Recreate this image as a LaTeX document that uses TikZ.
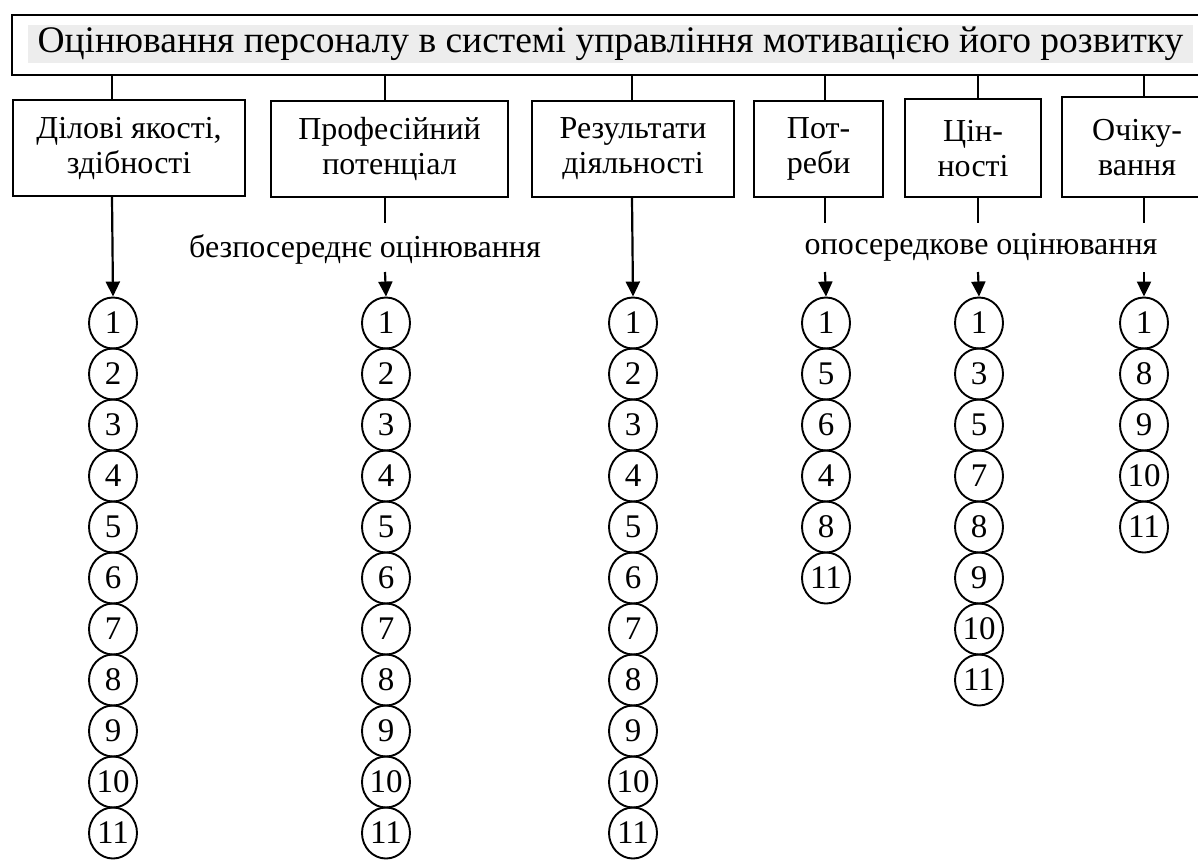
\documentclass[tikz,border=0pt]{standalone}
\usepackage{fontspec}
\setmainfont{Liberation Serif}
\usetikzlibrary{shapes.geometric,arrows.meta}
\begin{document}
\begin{tikzpicture}[x=1pt,y=-1pt,line width=2.2pt,
  box/.style={draw,align=center,inner sep=0pt,anchor=north west,font=\fontsize{32}{35}\selectfont},
  num/.style={draw,ellipse,minimum width=48pt,minimum height=51pt,inner sep=0pt,line width=1.9pt,font=\fontsize{33}{33}\selectfont},
  arr/.style={-{Triangle[length=15pt,width=14pt]}},
  lbl/.style={inner sep=0pt,font=\fontsize{32}{38}\selectfont}]
\clip (0,0) rectangle (1198,865);
% title
\node[draw,anchor=north west,minimum width=1210pt,minimum height=60pt,inner sep=0pt] (frame) at (11,14) {};
\node[fill=black!7,minimum width=1165pt,minimum height=38pt,inner sep=0pt,font=\fontsize{37.5}{40}\selectfont] (title) at (610.5,44) {Оцінювання персоналу в системі управління мотивацією його розвитку};
% boxes
\node[box,minimum width=232pt,minimum height=96pt] (b1) at (12,99) {Ділові якості,\\здібності};
\node[box,minimum width=237pt,minimum height=96pt] (b2) at (270,100) {Професійний\\потенціал};
\node[box,minimum width=202pt,minimum height=96pt] (b3) at (531,100) {Результати\\діяльності};
\node[box,minimum width=129pt,minimum height=96pt] (b4) at (753,100) {Пот-\\реби};
\node[box,minimum width=136pt,minimum height=98pt] (b5) at (904,98) {Цін-\\ності};
\node[box,minimum width=150pt,minimum height=100pt] (b6) at (1061,96) {Очіку-\\вання};
% column coordinates
\coordinate (c1) at (112,0);
\coordinate (c2) at (385,0);
\coordinate (c3) at (632,0);
\coordinate (c4) at (825,0);
\coordinate (c5) at (978,0);
\coordinate (c6) at (1144,0);
\foreach \k in {1,...,6} \draw (frame.south -| c\k) -- (b\k.north -| c\k);
% labels
\node[lbl] (l1) at (365,249) {безпосереднє оцінювання};
\node[lbl] (l2) at (981,247) {опосередкове оцінювання};
% circles
\foreach \v [count=\i] in {1,2,3,4,5,6,7,8,9,10,11} \node[num] (p1n\i) at (113,{323+51*(\i-1)}) {\v};
\foreach \v [count=\i] in {1,2,3,4,5,6,7,8,9,10,11} \node[num] (p2n\i) at (386,{323+51*(\i-1)}) {\v};
\foreach \v [count=\i] in {1,2,3,4,5,6,7,8,9,10,11} \node[num] (p3n\i) at (633,{323+51*(\i-1)}) {\v};
\foreach \v [count=\i] in {1,5,6,4,8,11} \node[num] (p4n\i) at (826,{323+51*(\i-1)}) {\v};
\foreach \v [count=\i] in {1,3,5,7,8,9,10,11} \node[num] (p5n\i) at (979,{323+51*(\i-1)}) {\v};
\foreach \v [count=\i] in {1,8,9,10,11} \node[num] (p6n\i) at (1144,{323+51*(\i-1)}) {\v};
% connectors
\draw[arr] (b1.south -| c1) -- (p1n1.north);
\draw[arr] (b3.south -| c3) -- (p3n1.north);
\coordinate (m2) at (385,223); \coordinate (s2) at (385,272);
\coordinate (m4) at (825,223); \coordinate (s4) at (825,272);
\coordinate (m5) at (978,223); \coordinate (s5) at (978,272);
\coordinate (m6) at (1144,223); \coordinate (s6) at (1144,272);
\foreach \k in {2,4,5,6} {
  \draw (b\k.south -| m\k) -- (m\k);
  \draw[arr] (s\k) -- (p\k n1.north);
}
\end{tikzpicture}
\end{document}
